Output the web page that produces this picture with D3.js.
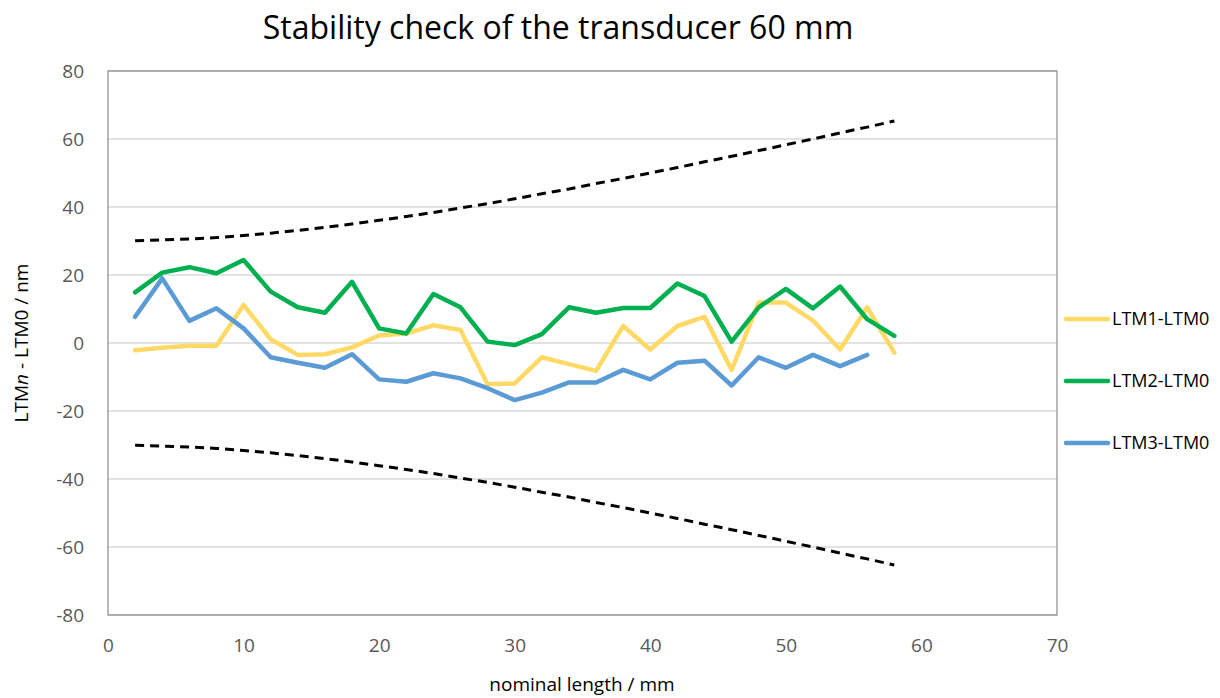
<!DOCTYPE html>
<html>
<head>
<meta charset="utf-8">
<script src="https://cdn.jsdelivr.net/npm/d3@7/dist/d3.min.js"></script>
<style>
  body { margin: 0; background: #fff; }
  svg { font-family: "Open Sans", sans-serif; }
</style>
</head>
<body>
<div id="chart"></div>
<script>
// nominal lengths (mm)
const lengths = [2, 4, 6, 8, 10, 12, 14, 16, 18, 20, 22, 24, 26, 28, 30, 32, 34, 36, 38, 40, 42, 44, 46, 48, 50, 52, 54, 56, 58];

// differences in nm
const ltm1 = [-2.1, -1.4, -0.8, -0.8, 11.2, 1.1, -3.5, -3.3, -1.3, 2.2, 2.8, 5.2, 3.8, -12.1, -11.9, -4.2, -6.2, -8.2, 5.0, -1.9, 5.0, 7.7, -7.9, 11.9, 11.9, 6.6, -1.9, 10.5, -2.8];
const ltm2 = [14.9, 20.7, 22.3, 20.5, 24.4, 15.1, 10.5, 8.9, 18.0, 4.3, 2.8, 14.4, 10.5, 0.4, -0.6, 2.6, 10.5, 8.9, 10.3, 10.3, 17.5, 13.8, 0.4, 10.5, 15.9, 10.2, 16.6, 7.0, 2.1];
const ltm3 = [7.7, 19.0, 6.5, 10.2, 4.3, -4.2, -5.8, -7.3, -3.3, -10.7, -11.4, -8.9, -10.4, -13.3, -16.8, -14.6, -11.6, -11.6, -7.9, -10.7, -5.8, -5.2, -12.5, -4.2, -7.3, -3.5, -6.8, -3.5];

// tolerance limits
const upperLimit = [30.1, 30.3, 30.6, 31.0, 31.6, 32.3, 33.1, 34.0, 35.0, 36.1, 37.2, 38.4, 39.7, 41.0, 42.4, 43.9, 45.3, 46.9, 48.4, 50.0, 51.6, 53.3, 54.9, 56.6, 58.3, 60.0, 61.8, 63.5, 65.3];
const lowerLimit = [-30.1, -30.3, -30.6, -31.0, -31.6, -32.3, -33.1, -34.0, -35.0, -36.1, -37.2, -38.4, -39.7, -41.0, -42.4, -43.9, -45.3, -46.9, -48.4, -50.0, -51.6, -53.3, -54.9, -56.6, -58.3, -60.0, -61.8, -63.5, -65.3];

const seriesNames = ["LTM1-LTM0", "LTM2-LTM0", "LTM3-LTM0"];
const seriesColors = ["#FFD966", "#00B050", "#5B9BD5"];
const xTicks = [0, 10, 20, 30, 40, 50, 60, 70];
const yTicks = [-80, -60, -40, -20, 0, 20, 40, 60, 80];

const width = 1220,
  height = 698;
const margin = { top: 71, right: 163, bottom: 83, left: 108 };

const svg = d3.select("#chart").append("svg").attr("width", width).attr("height", height);

const x = d3.scaleLinear().domain([0, 70]).range([margin.left, width - margin.right]);
const y = d3.scaleLinear().domain([-80, 80]).range([height - margin.bottom, margin.top]);

// gridlines
svg
  .append("g")
  .selectAll("line")
  .data(yTicks)
  .join("line")
  .attr("x1", x(0))
  .attr("x2", x(70))
  .attr("y1", d => y(d))
  .attr("y2", d => y(d))
  .attr("stroke", "#d9d9d9")
  .attr("stroke-width", 1.5);

// plot border
svg
  .append("rect")
  .attr("x", x(0))
  .attr("y", y(80))
  .attr("width", x(70) - x(0))
  .attr("height", y(-80) - y(80))
  .attr("fill", "none")
  .attr("stroke", "#8c8c8c")
  .attr("stroke-width", 1.2);

// axes (plain hyphen for negatives, like the original)
const yAxis = svg
  .append("g")
  .attr("transform", `translate(${x(0)},0)`)
  .call(d3.axisLeft(y).tickValues(yTicks).tickFormat(d => String(d)).tickSize(0).tickPadding(24));
yAxis.select(".domain").remove();
yAxis.selectAll("text").attr("font-size", 19).attr("fill", "#595959").attr("font-family", "Open Sans");

const xAxis = svg
  .append("g")
  .attr("transform", `translate(0,${y(-80)})`)
  .call(d3.axisBottom(x).tickValues(xTicks).tickFormat(d => String(d)).tickSize(0).tickPadding(24));
xAxis.select(".domain").remove();
xAxis.selectAll("text").attr("font-size", 19).attr("fill", "#595959").attr("font-family", "Open Sans");

const line = d3
  .line()
  .x(d => x(d[0]))
  .y(d => y(d[1]));

// tolerance limits
[upperLimit, lowerLimit].forEach(lim => {
  svg
    .append("path")
    .attr("d", line(lim.map((v, i) => [lengths[i], v])))
    .attr("fill", "none")
    .attr("stroke", "#000")
    .attr("stroke-width", 3)
    .attr("stroke-dasharray", "9,6");
});

// series
[ltm1, ltm2, ltm3].forEach((s, k) => {
  svg
    .append("path")
    .attr("d", line(s.map((v, i) => [lengths[i], v])))
    .attr("fill", "none")
    .attr("stroke", seriesColors[k])
    .attr("stroke-width", 4.5)
    .attr("stroke-linejoin", "round")
    .attr("stroke-linecap", "round");
});

// legend
const legend = svg
  .append("g")
  .selectAll("g")
  .data(seriesNames)
  .join("g")
  .attr("transform", (d, i) => `translate(1066,${319 + i * 62})`);
legend
  .append("line")
  .attr("x1", 0)
  .attr("x2", 42)
  .attr("stroke", (d, i) => seriesColors[i])
  .attr("stroke-width", 4.5)
  .attr("stroke-linecap", "round");
legend
  .append("text")
  .attr("x", 46)
  .attr("dy", "0.35em")
  .attr("font-size", 18)
  .attr("fill", "#000")
  .text(d => d);

// title
svg
  .append("text")
  .attr("x", 558)
  .attr("y", 39)
  .attr("text-anchor", "middle")
  .attr("font-size", 32)
  .attr("fill", "#000")
  .text("Stability check of the transducer 60 mm");

// x axis title
svg
  .append("text")
  .attr("x", 582)
  .attr("y", 691)
  .attr("text-anchor", "middle")
  .attr("font-size", 19)
  .attr("fill", "#000")
  .text("nominal length / mm");

// y axis title with italic n
const yTitle = svg
  .append("text")
  .attr("transform", `translate(28,${y(0)}) rotate(-90)`)
  .attr("text-anchor", "middle")
  .attr("font-size", 19)
  .attr("fill", "#000");
yTitle.append("tspan").text("LTM");
yTitle.append("tspan").attr("font-style", "italic").text("n");
yTitle.append("tspan").text(" - LTM0 / nm");
</script>
</body>
</html>
